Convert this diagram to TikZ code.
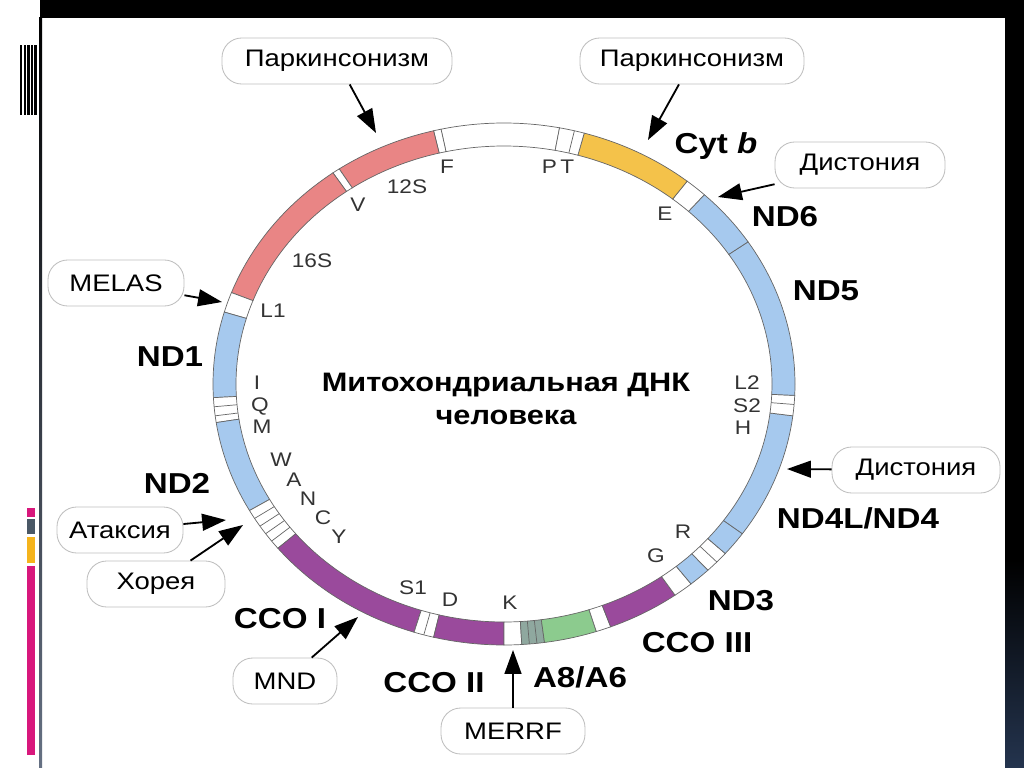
\documentclass[tikz,border=0pt]{standalone}
\usepackage{fontspec}
\setmainfont{Liberation Sans}[FakeStretch=1.15]
\usetikzlibrary{arrows.meta}

\definecolor{rrna}{HTML}{E98585}
\definecolor{cytb}{HTML}{F4C24A}
\definecolor{ndh}{HTML}{A6C9EE}
\definecolor{cco}{HTML}{9A4A9C}
\definecolor{atp}{HTML}{8CCB8E}
\definecolor{atpgray}{HTML}{8FA89F}
\definecolor{barpink}{HTML}{D8177C}
\definecolor{bargray}{HTML}{4A5866}
\definecolor{barorange}{HTML}{F5B41C}
\definecolor{bandblue}{HTML}{24344E}

% one coloured piece of the ring, from angle #1 to angle #2
\newcommand\ringseg[3]{%
  \filldraw[segline, fill=#3]
    plot[domain=#1:#2, samples=30, variable=\t] ({291*cos(\t)},{261*sin(\t)})
    -- plot[domain=#2:#1, samples=30, variable=\t] ({268*cos(\t)},{238*sin(\t)})
    -- cycle;}

\begin{document}
\begin{tikzpicture}[x=0.25mm, y=-0.25mm,
  pill/.style={draw=black!25, fill=white, line width=0.6pt, rounded corners=14pt,
               minimum height=11.5mm, inner sep=2pt, font=\fontsize{17}{19}\selectfont},
  gene/.style={font=\fontsize{20.5}{22}\selectfont\bfseries},
  title/.style={font=\fontsize{19}{23.5}\selectfont\bfseries, align=center},
  trna/.style={font=\fontsize{14}{15}\selectfont, text=black!80, inner sep=0pt},
  hit/.style={line width=1.3pt, -{Triangle[length=17pt, width=12pt]}},
  segline/.style={draw=black!60, line width=0.5pt},
]
\useasboundingbox (0,0) rectangle (1024,767);

% slide frame
\fill[black] (40,0) rectangle (1024,18);
\fill[black] (1005,0) rectangle (1024,560);
\shade[top color=black, bottom color=bandblue] (1005,560) rectangle (1024,767);
\shade[top color=black, bottom color=bandblue!70] (39,18) rectangle (42,767);
\foreach \bx/\bw in {20/2, 24/1.5, 27/2.5, 31/1.5, 34/3}
  \fill[black] (\bx,45) rectangle ++(\bw,70);
\fill[barpink] (27,508) rectangle (35,517);
\fill[bargray] (27,519) rectangle (35,534);
\fill[barorange] (27,537) rectangle (35,563);
\fill[barpink] (27,566) rectangle (35,755);

% the ring
\begin{scope}[shift={(504,384)}, y=0.25mm]
  \foreach \a/\b/\c in {79/102.5/white, 102.5/104/white, 104/124.5/rrna,
      124.5/126/white, 126/159.5/rrna, 159.5/164/white, 164/183/ndh,
      183/188.5/white, 188.5/209/ndh, 209/219/white, 219/252/cco,
      252/256/white, 256/270/cco, 270/273.5/white, 273.5/278/atpgray,
      278/288.5/atp, 288.5/291.5/white, 291.5/306/cco, 306/310/white,
      310/314.5/ndh, 314.5/319.5/white, 319.5/325/ndh, 325/353/ndh,
      353/357.5/white, -2.5/33/ndh, 33/46.5/ndh, 46.5/51/white,
      51/74/cytb, 74/79/white}
    \ringseg{\a}{\b}{\c};
  % stripes inside the tRNA blocks
  \foreach \a in {76, 185, 187, 211, 213, 215, 217, 254, 275, 276.5, 317, 355.5}
    \draw[segline] ({291*cos(\a)},{261*sin(\a)}) -- ({268*cos(\a)},{238*sin(\a)});
\end{scope}

% gene names
\node[gene] (cytb) at (716,146) {Cyt \textit{b}};
\node[gene] (nd6) at (785,217) {ND6};
\node[gene] (nd5) at (826,291) {ND5};
\node[gene] (nd4) at (858,518) {ND4L/ND4};
\node[gene] (nd3) at (741,601) {ND3};
\node[gene] (cco3) at (697,643) {CCO III};
\node[gene] (atp) at (580,677) {A8/A6};
\node[gene] (cco2) at (434,683) {CCO II};
\node[gene] (cco1) at (280,619) {CCO I};
\node[gene] (nd2) at (177,483) {ND2};
\node[gene] (nd1) at (170,357) {ND1};

% tRNA and rRNA marks
\node[trna] (lF) at (447,167) {F};
\node[trna] (l12S) at (407,187) {12S};
\node[trna] (lV) at (358,205) {V};
\node[trna] (l16S) at (312,261) {16S};
\node[trna] (lL1) at (273,311) {L1};
\node[trna] (lI) at (257,383) {I};
\node[trna] (lQ) at (260,406) {Q};
\node[trna] (lM) at (262,427) {M};
\node[trna] (lW) at (281,460) {W};
\node[trna] (lA) at (294,480) {A};
\node[trna] (lN) at (308,499) {N};
\node[trna] (lC) at (323,518) {C};
\node[trna] (lY) at (339,537) {Y};
\node[trna] (lS1) at (413,588) {S1};
\node[trna] (lD) at (450,600) {D};
\node[trna] (lK) at (510,603) {K};
\node[trna] (lG) at (656,556) {G};
\node[trna] (lR) at (683,532) {R};
\node[trna] (lL2) at (747,383) {L2};
\node[trna] (lS2) at (747,406) {S2};
\node[trna] (lH) at (743,428) {H};
\node[trna] (lE) at (665,214) {E};
\node[trna] (lPT) at (558,167) {P\,T};

\node[title] (mtdna) at (506,399) {Митохондриальная ДНК\\человека};

% diseases
\node[pill, minimum width=57.5mm] (park1) at (337,61) {Паркинсонизм};
\node[pill, minimum width=56mm] (park2) at (692,61) {Паркинсонизм};
\node[pill, minimum width=42.5mm] (dyst1) at (860,165) {Дистония};
\node[pill, minimum width=34mm] (melas) at (116,283) {MELAS};
\node[pill, minimum width=31.5mm] (ataxia) at (120,530) {Атаксия};
\node[pill, minimum width=34.5mm] (chorea) at (156,584) {Хорея};
\node[pill, minimum width=26mm] (mnd) at (285,681) {MND};
\node[pill, minimum width=36mm] (merrf) at (513,731) {MERRF};
\node[pill, minimum width=42mm] (dyst2) at (916,470) {Дистония};

\coordinate (tPark1) at (376,133);
\coordinate (tPark2) at (648,140);
\coordinate (tDyst1) at (718,197);
\coordinate (tMelas) at (222,302);
\coordinate (tAtax) at (226,520);
\coordinate (tChor) at (243,525);
\coordinate (tMnd) at (358,617);
\coordinate (tMerrf) at (513,650);
\coordinate (tDyst2) at (787,469);

\draw[hit] (park1) -- (tPark1);
\draw[hit] (park2) -- (tPark2);
\draw[hit] (dyst1) -- (tDyst1);
\draw[hit] (melas) -- (tMelas);
\draw[hit] (ataxia) -- (tAtax);
\draw[hit] (chorea) -- (tChor);
\draw[hit] (mnd) -- (tMnd);
\draw[hit] (merrf) -- (tMerrf);
\draw[hit] (dyst2) -- (tDyst2);
\end{tikzpicture}
\end{document}
